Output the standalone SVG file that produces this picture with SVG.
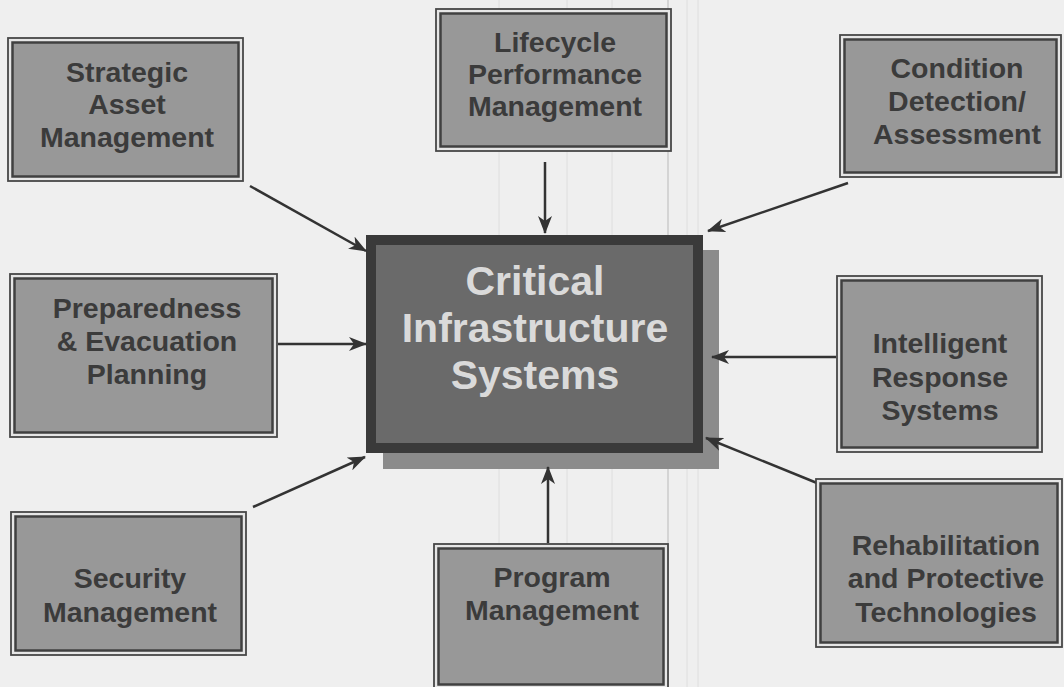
<svg xmlns="http://www.w3.org/2000/svg" width="1064" height="687" viewBox="0 0 1064 687">
<style>
.bg{fill:#efefef}
.grid{stroke:#dedede;stroke-width:1}
.outer{fill:#e6e6e6;stroke:#474747;stroke-width:1.8}
.inner{fill:#989898;stroke:#404040;stroke-width:2.5}
.lbl{font-family:"Liberation Sans",Arial,sans-serif;font-weight:bold;font-size:28.5px;fill:#3b3b3b;text-anchor:middle}
.clbl{font-family:"Liberation Sans",Arial,sans-serif;font-weight:bold;font-size:41px;fill:#dadada;text-anchor:middle}
.conn{stroke:#333;stroke-width:2.5;fill:none;marker-end:url(#arr)}
</style>
<defs>
<marker id="arr" viewBox="0 0 18 14" refX="17" refY="7" markerWidth="18" markerHeight="14" markerUnits="userSpaceOnUse" orient="auto">
<path d="M0,0 L18,7 L0,14 L5,7 z" fill="#333"/>
</marker>
</defs>
<rect class="bg" x="0" y="0" width="1064" height="687"/>
<g id="background-lines">
<line class="grid" x1="499" y1="0" x2="499" y2="687"/>
<line class="grid" x1="567" y1="0" x2="567" y2="687"/>
<line class="grid" x1="612" y1="0" x2="612" y2="687"/>
<line x1="668" y1="0" x2="668" y2="687" stroke="#d4d4d4" stroke-width="2"/>
<line class="grid" x1="687" y1="0" x2="687" y2="687"/>
<line class="grid" x1="698" y1="0" x2="698" y2="687"/>
</g>
<g id="center">
<rect x="383" y="250" width="336" height="219" fill="#8b8b8b"/>
<rect x="371" y="240" width="327" height="208" fill="#6a6a6a" stroke="#3a3a3a" stroke-width="10"/>
<text class="clbl" x="535" y="295">Critical</text>
<text class="clbl" x="535" y="342">Infrastructure</text>
<text class="clbl" x="535" y="389">Systems</text>
</g>
<g id="connectors">
<line class="conn" x1="250" y1="186" x2="366" y2="251"/>
<line class="conn" x1="545" y1="162" x2="545" y2="233"/>
<line class="conn" x1="848" y1="183" x2="708" y2="231"/>
<line class="conn" x1="278" y1="344" x2="366" y2="344"/>
<line class="conn" x1="836" y1="357" x2="712" y2="357"/>
<line class="conn" x1="253" y1="507" x2="365" y2="457"/>
<line class="conn" x1="548" y1="543" x2="548" y2="467"/>
<line class="conn" x1="817" y1="483" x2="706" y2="438"/>
</g>
<g id="strategic">
<rect class="outer" x="8" y="38" width="235" height="143"/>
<rect class="inner" x="12.5" y="42.5" width="226" height="134"/>
<text class="lbl" x="127" y="82">Strategic</text>
<text class="lbl" x="127" y="114">Asset</text>
<text class="lbl" x="127" y="147">Management</text>
</g>
<g id="lifecycle">
<rect class="outer" x="436" y="9" width="235" height="142"/>
<rect class="inner" x="440.5" y="13.5" width="226" height="133"/>
<text class="lbl" x="555" y="52">Lifecycle</text>
<text class="lbl" x="555" y="84">Performance</text>
<text class="lbl" x="555" y="116">Management</text>
</g>
<g id="condition">
<rect class="outer" x="840" y="35" width="221" height="142"/>
<rect class="inner" x="844.5" y="39.5" width="212" height="133"/>
<text class="lbl" x="957" y="78">Condition</text>
<text class="lbl" x="957" y="111">Detection/</text>
<text class="lbl" x="957" y="144">Assessment</text>
</g>
<g id="preparedness">
<rect class="outer" x="10" y="274" width="267" height="163"/>
<rect class="inner" x="14.5" y="278.5" width="258" height="154"/>
<text class="lbl" x="147" y="318">Preparedness</text>
<text class="lbl" x="147" y="351">&amp; Evacuation</text>
<text class="lbl" x="147" y="384">Planning</text>
</g>
<g id="intelligent">
<rect class="outer" x="837" y="276" width="205" height="176"/>
<rect class="inner" x="841.5" y="280.5" width="196" height="167"/>
<text class="lbl" x="940" y="353">Intelligent</text>
<text class="lbl" x="940" y="387">Response</text>
<text class="lbl" x="940" y="420">Systems</text>
</g>
<g id="security">
<rect class="outer" x="11" y="512" width="235" height="143"/>
<rect class="inner" x="15.5" y="516.5" width="226" height="134"/>
<text class="lbl" x="130" y="588">Security</text>
<text class="lbl" x="130" y="622">Management</text>
</g>
<g id="program">
<rect class="outer" x="434" y="544" width="234" height="145"/>
<rect class="inner" x="438.5" y="548.5" width="225" height="136"/>
<text class="lbl" x="552" y="587">Program</text>
<text class="lbl" x="552" y="620">Management</text>
</g>
<g id="rehabilitation">
<rect class="outer" x="816" y="479" width="246" height="168"/>
<rect class="inner" x="820.5" y="483.5" width="237" height="159"/>
<text class="lbl" x="946" y="555">Rehabilitation</text>
<text class="lbl" x="946" y="588">and Protective</text>
<text class="lbl" x="946" y="622">Technologies</text>
</g>
</svg>
